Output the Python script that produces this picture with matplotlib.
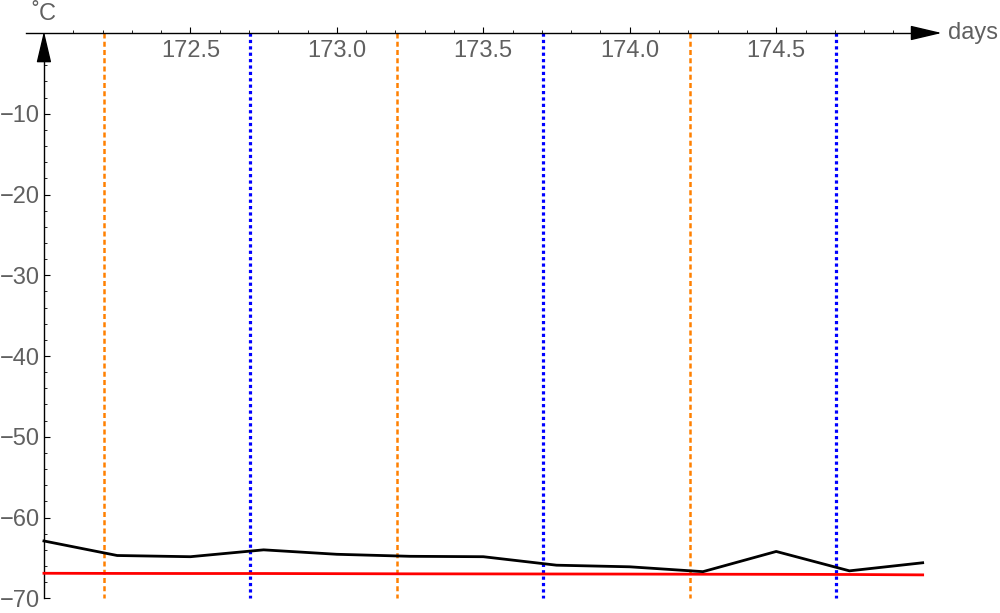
import matplotlib
matplotlib.use('Agg')
import matplotlib.pyplot as plt
from matplotlib.ticker import FixedLocator, FormatStrFormatter

days = [172.0, 172.25, 172.5, 172.75, 173.0, 173.25, 173.5, 173.75, 174.0, 174.25, 174.5, 174.75, 175.0]
temp_black = [-62.9, -64.7, -64.85, -64.0, -64.55, -64.8, -64.85, -65.9, -66.1, -66.7, -64.2, -66.6, -65.6]
temp_red = [-66.9, -66.92, -66.93, -66.93, -66.95, -66.97, -66.98, -66.99, -67.0, -67.02, -67.03, -67.05, -67.1]

orange_days = [172.205, 173.205, 174.205]
blue_days = [172.705, 173.705, 174.705]

x_major = [172.5, 173.0, 173.5, 174.0, 174.5]
x_minor = [172.1, 172.2, 172.3, 172.4, 172.6, 172.7, 172.8, 172.9, 173.1, 173.2, 173.3, 173.4,
           173.6, 173.7, 173.8, 173.9, 174.1, 174.2, 174.3, 174.4, 174.6, 174.7, 174.8, 174.9]
y_major = [-70, -60, -50, -40, -30, -20, -10]
y_minor = [-68, -66, -64, -62, -58, -56, -54, -52, -48, -46, -44, -42, -38, -36, -34, -32,
           -28, -26, -24, -22, -18, -16, -14, -12, -8, -6, -4, -2]

label_color = '#606060'
plt.rcParams['font.family'] = ['Liberation Sans', 'DejaVu Sans']

fig = plt.figure(figsize=(10, 6.13), dpi=100)
ax = fig.add_axes([0, 0, 1, 1])
ax.set_xlim(171.85, 175.264)
ax.set_ylim(-71.82, 4.086)

# reference lines
for d in orange_days:
    ax.plot([d, d], [0, -70], color='#FF8000', linewidth=1.8, linestyle=(0, (2.0, 1.3)), zorder=2)
for d in blue_days:
    ax.plot([d, d], [0, -70], color='#0000FF', linewidth=2.3, linestyle=(0, (1.0, 1.0)), zorder=2)

ax.plot(days, temp_red, color='#FF0000', linewidth=2.0, zorder=3)
ax.plot(days, temp_black, color='black', linewidth=2.0, zorder=4)

# axes through origin, Mathematica style
for s in ['top', 'right']:
    ax.spines[s].set_visible(False)
ax.spines['bottom'].set_position(('data', 0))
ax.spines['left'].set_position(('data', 172.0))
ax.spines['bottom'].set_bounds(171.94, 174.99)
ax.spines['left'].set_bounds(-70, -2)
ax.spines['bottom'].set_linewidth(1.0)
ax.spines['left'].set_linewidth(1.0)

ax.xaxis.set_major_locator(FixedLocator(x_major))
ax.xaxis.set_minor_locator(FixedLocator(x_minor))
ax.xaxis.set_major_formatter(FormatStrFormatter('%.1f'))
ax.yaxis.set_major_locator(FixedLocator(y_major))
ax.yaxis.set_minor_locator(FixedLocator(y_minor))
ax.tick_params(axis='both', which='major', direction='in', length=4, width=0.8,
               labelsize=17, labelcolor=label_color)
ax.tick_params(axis='both', which='minor', direction='in', length=2.5, width=0.6)
ax.tick_params(axis='x', which='major', pad=5)
ax.tick_params(axis='y', which='major', pad=3)

# arrow heads
ax.annotate('', xy=(175.065, 0), xytext=(174.98, 0),
            arrowprops=dict(arrowstyle='-|>,head_length=1.4,head_width=0.33', color='black',
                            lw=1.0, mutation_scale=14, shrinkA=0, shrinkB=0), zorder=6)
ax.annotate('', xy=(172.0, 0.2), xytext=(172.0, -3.5),
            arrowprops=dict(arrowstyle='-|>,head_length=1.4,head_width=0.33', color='black',
                            lw=1.0, mutation_scale=14, shrinkA=0, shrinkB=0), zorder=6)

ax.text(175.085, 0, 'days', fontsize=17, color=label_color, ha='left', va='center')
ax.text(172.0, 2.3, '˚C', fontsize=17, color=label_color, ha='center', va='center')

fig.savefig('out.png', dpi=100, facecolor='white')
